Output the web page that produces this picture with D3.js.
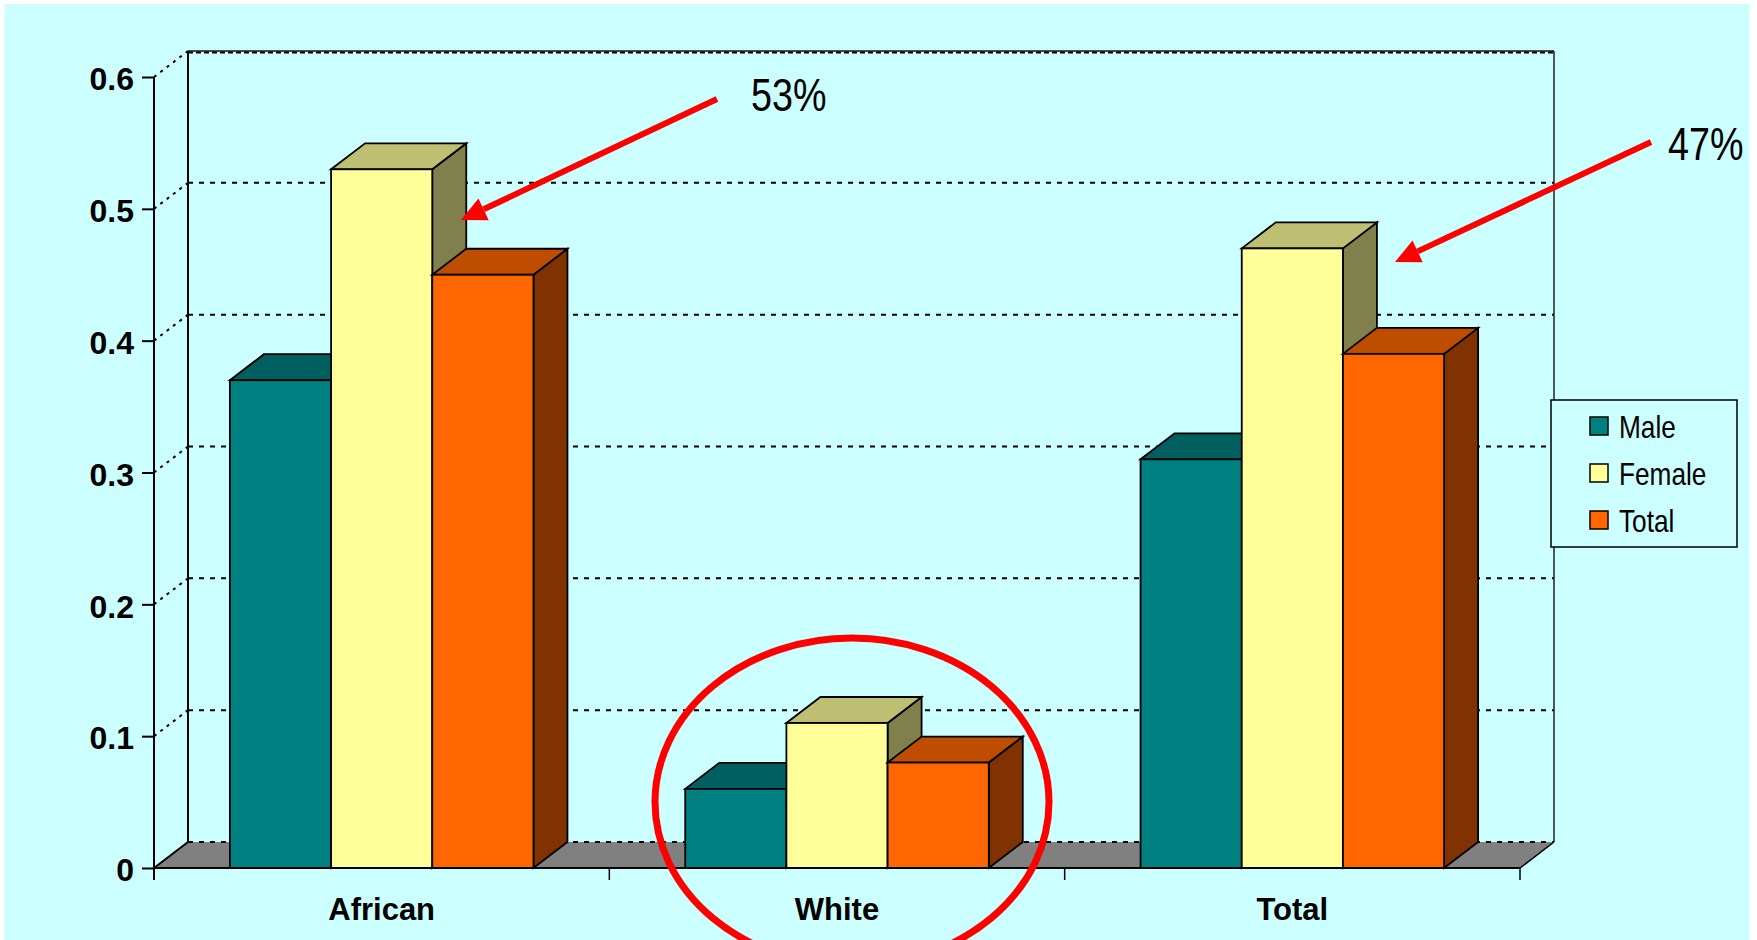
<!DOCTYPE html>
<html>
<head>
<meta charset="utf-8">
<script src="https://cdn.jsdelivr.net/npm/d3@7"></script>
<style>
  html, body { margin: 0; padding: 0; background: #ffffff; }
  svg { display: block; }
</style>
</head>
<body>
<svg id="chart" width="1757" height="940"></svg>
<script>
// ---- data ----
const categories = ["African", "White", "Total"];
const seriesNames = ["Male", "Female", "Total"];
const maleValues = [0.37, 0.06, 0.31];
const femaleValues = [0.53, 0.11, 0.47];
const totalValues = [0.45, 0.08, 0.39];
const yTickValues = [0, 0.1, 0.2, 0.3, 0.4, 0.5, 0.6];
const yTickLabels = ["0", "0.1", "0.2", "0.3", "0.4", "0.5", "0.6"];
const seriesColors = ["#008080", "#FFFF99", "#FF6600"];

// ---- layout ----
const W = 1757, H = 940;
const plot = { left: 154, right: 1520, bottom: 868, top: 77 };
const depth = { dx: 34, dy: 26 };
const bgColor = "#CCFFFF";
const floorColor = "#808080";
const axisFont = "'Liberation Sans', Arial, Helvetica, sans-serif";
const narrowScale = 0.82;   // horizontal squeeze for the condensed legend/callout face

const svg = d3.select("#chart");

svg.append("rect").attr("width", W).attr("height", H).attr("fill", "#ffffff");
svg.append("rect").attr("x", 4.5).attr("y", 4).attr("width", 1745).attr("height", H - 4).attr("fill", bgColor);

// scales
const x = d3.scaleBand().domain(categories).range([plot.left, plot.right]).padding(0);
const xs = d3.scaleBand().domain(seriesNames).range([0, x.bandwidth()]).paddingInner(0).paddingOuter(0.75);
const y = d3.scaleLinear().domain([0, 0.6]).range([plot.bottom, plot.top]);

const backLeft = plot.left + depth.dx;
const backRight = plot.right + depth.dx;
const by = v => y(v) - depth.dy;

// ---- back wall gridlines ----
const wall = svg.append("g");
wall.selectAll("line.grid")
  .data(yTickValues.filter(v => v > 0 && v < 0.6))
  .join("line")
  .attr("x1", backLeft).attr("x2", backRight)
  .attr("y1", d => by(d)).attr("y2", d => by(d))
  .attr("stroke", "#000").attr("stroke-width", 2).attr("stroke-dasharray", "5,6");

// top edge of back wall (solid + dashed gridline at 0.6)
wall.append("line")
  .attr("x1", backLeft).attr("x2", backRight).attr("y1", by(0.6)).attr("y2", by(0.6))
  .attr("stroke", "#4a4a4a").attr("stroke-width", 2);
wall.append("line")
  .attr("x1", backLeft).attr("x2", backRight).attr("y1", by(0.6) + 1.5).attr("y2", by(0.6) + 1.5)
  .attr("stroke", "#000").attr("stroke-width", 2).attr("stroke-dasharray", "5,3");

// left and right edges of back wall
wall.append("line")
  .attr("x1", backLeft).attr("x2", backLeft).attr("y1", by(0.6)).attr("y2", by(0))
  .attr("stroke", "#000").attr("stroke-width", 2);
wall.append("line")
  .attr("x1", backRight).attr("x2", backRight).attr("y1", by(0.6)).attr("y2", by(0))
  .attr("stroke", "#222").attr("stroke-width", 1.5);

// side wall diagonals from the value axis to the back wall
wall.selectAll("line.diag")
  .data(yTickValues.filter(v => v > 0))
  .join("line")
  .attr("x1", plot.left).attr("y1", d => y(d))
  .attr("x2", backLeft).attr("y2", d => by(d))
  .attr("stroke", "#000").attr("stroke-width", 2).attr("stroke-dasharray", "3,5");

// ---- floor ----
const floorPts = [[plot.left, y(0)], [plot.right, y(0)], [backRight, by(0)], [backLeft, by(0)]];
svg.append("polygon")
  .attr("points", floorPts.map(p => p.join(",")).join(" "))
  .attr("fill", floorColor);
svg.append("line")
  .attr("x1", backLeft).attr("x2", backRight).attr("y1", by(0)).attr("y2", by(0))
  .attr("stroke", "#000").attr("stroke-width", 2).attr("stroke-dasharray", "5,6");
svg.append("line")
  .attr("x1", plot.left).attr("y1", y(0)).attr("x2", backLeft).attr("y2", by(0))
  .attr("stroke", "#000").attr("stroke-width", 2);
svg.append("line")
  .attr("x1", plot.right).attr("y1", y(0)).attr("x2", backRight).attr("y2", by(0))
  .attr("stroke", "#000").attr("stroke-width", 1.5);

// ---- bars ----
const seriesValues = [maleValues, femaleValues, totalValues];
const bars = [];
categories.forEach((c, i) => {
  seriesNames.forEach((s, j) => bars.push({ c, s, j, v: seriesValues[j][i] }));
});

function shade(color, k) {
  const c = d3.rgb(color);
  return d3.rgb(Math.round(c.r * k), Math.round(c.g * k), Math.round(c.b * k)).formatHex();
}
const pts = arr => arr.map(p => p.join(",")).join(" ");

const barG = svg.append("g")
  .attr("stroke", "#000").attr("stroke-width", 1.8).attr("stroke-linejoin", "miter");

barG.selectAll("g.bar")
  .data(bars)
  .join("g")
  .attr("class", "bar")
  .each(function (d) {
    const g = d3.select(this);
    const x0 = x(d.c) + xs(d.s);
    const x1 = x0 + xs.bandwidth();
    const yt = y(d.v), yb = y(0);
    const col = seriesColors[d.j];
    g.append("polygon")
      .attr("points", pts([[x1, yt], [x1 + depth.dx, yt - depth.dy], [x1 + depth.dx, yb - depth.dy], [x1, yb]]))
      .attr("fill", shade(col, 0.5));
    g.append("polygon")
      .attr("points", pts([[x0, yt], [x0 + depth.dx, yt - depth.dy], [x1 + depth.dx, yt - depth.dy], [x1, yt]]))
      .attr("fill", shade(col, 0.75));
    g.append("rect")
      .attr("x", x0).attr("y", yt).attr("width", x1 - x0).attr("height", yb - yt)
      .attr("fill", col);
  });

// front floor edge (category axis line)
svg.append("line")
  .attr("x1", plot.left).attr("x2", plot.right).attr("y1", y(0)).attr("y2", y(0))
  .attr("stroke", "#000").attr("stroke-width", 2);

// ---- value axis ----
const yAxis = d3.axisLeft(y)
  .tickValues(yTickValues)
  .tickFormat((d, i) => yTickLabels[i])
  .tickSize(12)
  .tickSizeOuter(0)
  .tickPadding(8);

const yAxisG = svg.append("g")
  .attr("transform", `translate(${plot.left},0)`)
  .call(yAxis);
yAxisG.select(".domain").remove();
yAxisG.selectAll(".tick line").attr("stroke", "#000").attr("stroke-width", 2);
yAxisG.selectAll(".tick text")
  .attr("font-family", axisFont).attr("font-weight", "bold").attr("font-size", 32)
  .attr("fill", "#000").attr("dy", "0.4em");
svg.append("line")
  .attr("x1", plot.left).attr("x2", plot.left).attr("y1", y(0.6)).attr("y2", y(0) + 12)
  .attr("stroke", "#000").attr("stroke-width", 2);

// ---- category axis ----
const boundaries = categories.map(c => x(c)).concat([x(categories[categories.length - 1]) + x.bandwidth()]);
svg.selectAll("line.ctick")
  .data(boundaries.slice(1))
  .join("line")
  .attr("x1", d => d).attr("x2", d => d)
  .attr("y1", y(0)).attr("y2", y(0) + 12)
  .attr("stroke", "#000").attr("stroke-width", 1.5);

svg.selectAll("text.cat")
  .data(categories)
  .join("text")
  .attr("x", d => x(d) + x.bandwidth() / 2)
  .attr("y", 920)
  .attr("text-anchor", "middle")
  .attr("font-family", axisFont).attr("font-weight", "bold").attr("font-size", 31)
  .attr("fill", "#000")
  .text(d => d);

// condensed text: regular face squeezed horizontally
function narrowText(parent, str, px, py, size) {
  return parent.append("text")
    .attr("transform", `translate(${px},${py}) scale(${narrowScale},1)`)
    .attr("font-family", axisFont)
    .attr("font-size", size)
    .attr("fill", "#000")
    .text(str);
}

// ---- legend ----
const legend = svg.append("g");
legend.append("rect")
  .attr("x", 1551).attr("y", 400).attr("width", 186).attr("height", 147)
  .attr("fill", bgColor).attr("stroke", "#000").attr("stroke-width", 1.5);
const rowY = [426, 473, 520];
seriesNames.forEach((s, i) => {
  legend.append("rect")
    .attr("x", 1590).attr("y", rowY[i] - 9).attr("width", 18).attr("height", 18)
    .attr("fill", seriesColors[i]).attr("stroke", "#000").attr("stroke-width", 1.5);
  narrowText(legend, s, 1619, rowY[i] + 11.5, 32);
});

// ---- callouts ----
const pct = d3.format(".0%");
const callouts = [
  { text: pct(femaleValues[0]), tail: [717, 99], tip: [461, 220], label: [751, 111] },
  { text: pct(femaleValues[2]), tail: [1651, 142], tip: [1395, 262], label: [1668, 160] }
];
const ann = svg.append("g");
callouts.forEach(cl => {
  const [tx, ty] = cl.tail, [hx, hy] = cl.tip;
  const len = Math.hypot(tx - hx, ty - hy);
  const ux = (tx - hx) / len, uy = (ty - hy) / len;
  const headLen = 25, headHalf = 12;
  const bx = hx + ux * headLen, byy = hy + uy * headLen;
  ann.append("line")
    .attr("x1", tx).attr("y1", ty).attr("x2", bx).attr("y2", byy)
    .attr("stroke", "#FF0000").attr("stroke-width", 6);
  ann.append("polygon")
    .attr("points", pts([[hx, hy], [bx - uy * headHalf, byy + ux * headHalf], [bx + uy * headHalf, byy - ux * headHalf]]))
    .attr("fill", "#FF0000");
  narrowText(ann, cl.text, cl.label[0], cl.label[1], 46);
});

// ellipse highlighting the White group
ann.append("ellipse")
  .attr("cx", x("White") + x.bandwidth() / 2 + 15)
  .attr("cy", y(0.05))
  .attr("rx", 197).attr("ry", 164)
  .attr("fill", "none").attr("stroke", "#FF0000").attr("stroke-width", 7);
</script>
</body>
</html>
